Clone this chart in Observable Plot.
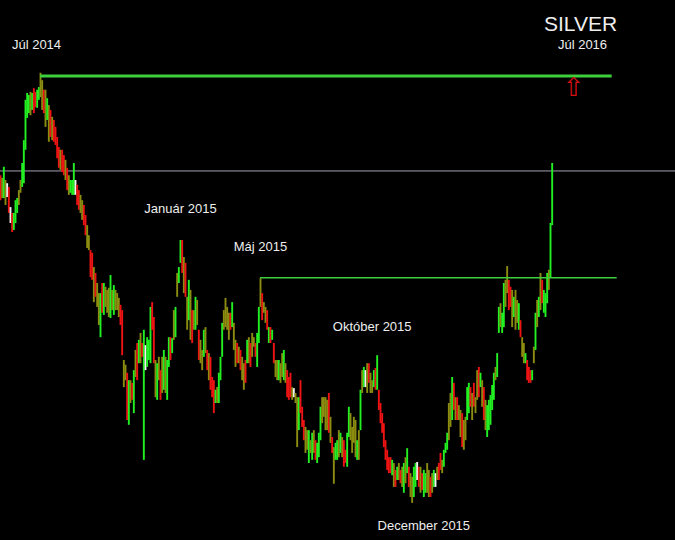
<!DOCTYPE html>
<html>
<head>
<meta charset="utf-8">
<script src="https://cdn.jsdelivr.net/npm/d3@7"></script>
<script src="https://cdn.jsdelivr.net/npm/@observablehq/plot@0.6"></script>
<style>
html,body{margin:0;padding:0;background:#000;overflow:hidden;}
#chart svg{display:block;}
</style>
</head>
<body>
<div id="chart"></div>
<script>
// Silver price bars (USD/oz), one per bar index
const high = [
19.70,19.65,19.86,19.61,19.55,19.48,19.10,18.99,18.99,19.23,
19.27,19.42,19.61,19.93,20.36,21.12,21.25,21.21,21.27,21.25,
21.34,21.27,21.31,21.36,21.63,21.49,21.31,21.31,21.15,21.02,
20.93,20.80,20.74,20.61,20.42,20.23,20.18,20.18,20.08,19.99,
19.84,19.70,19.61,19.61,19.93,19.61,19.52,19.42,19.33,19.23,
19.14,18.95,18.76,18.57,18.29,18.24,17.97,17.86,17.67,17.48,
17.48,17.67,17.67,17.60,17.54,17.58,17.82,17.54,17.63,17.54,
17.48,17.39,17.26,17.16,16.22,16.13,15.98,15.84,15.84,15.79,
16.03,16.41,16.54,16.60,16.73,16.54,16.79,16.50,16.65,16.60,
17.22,17.31,17.03,16.22,16.16,16.28,16.03,16.28,16.41,16.28,
16.22,16.65,16.65,16.63,17.16,17.22,17.86,17.97,18.48,18.48,
18.16,18.05,17.41,17.73,17.54,17.16,17.16,17.41,17.35,16.79,
16.60,16.41,16.79,16.84,16.41,16.35,16.28,15.90,15.84,15.66,
15.71,15.98,16.28,16.92,17.16,17.39,17.22,17.11,17.11,17.31,
16.92,16.60,16.54,16.47,16.41,16.28,16.16,16.22,16.60,16.65,
16.54,16.73,16.65,16.54,16.73,17.22,17.76,17.48,17.31,17.22,
17.16,16.84,16.84,16.79,16.54,16.22,16.22,16.22,16.16,16.35,
16.41,16.16,16.03,15.90,15.98,15.71,15.69,15.60,15.52,15.52,
15.84,15.34,15.09,14.96,14.90,14.90,14.71,14.85,14.90,14.71,
14.66,14.85,15.34,15.52,15.52,15.52,15.47,15.60,15.15,14.77,
14.58,14.66,14.71,14.90,14.85,14.77,14.71,14.53,14.85,15.34,
15.22,14.96,15.15,15.09,14.71,14.90,15.66,16.03,16.09,16.03,
16.16,16.16,15.98,15.84,16.03,16.07,16.31,15.66,15.41,15.22,
15.03,14.71,14.53,14.39,14.39,14.34,14.28,14.15,14.21,14.28,
14.15,14.21,14.28,14.39,14.56,14.21,14.09,14.02,14.21,14.28,
14.30,14.21,14.21,14.09,14.15,14.09,14.28,14.15,14.02,14.09,
14.15,14.09,14.21,14.28,14.47,14.34,14.53,14.66,14.85,15.41,
15.60,15.90,15.79,15.52,15.52,15.37,15.28,15.22,15.09,15.15,
15.71,15.79,15.71,15.60,15.79,15.52,16.03,16.09,15.98,15.84,
15.71,15.47,15.37,15.47,15.56,15.75,15.98,16.09,16.35,17.22,
17.29,17.11,17.67,17.73,17.99,17.73,17.60,17.54,17.41,17.54,
17.35,17.29,16.97,16.65,16.54,16.35,16.22,16.09,16.03,16.03,
16.47,17.11,17.35,17.41,17.86,17.73,17.54,17.48,17.86,17.92,
18.80,19.93
];
const low = [
19.23,19.27,19.27,19.14,19.29,18.99,18.80,18.63,18.67,18.80,
18.99,19.14,19.37,19.48,19.55,20.18,20.78,20.87,20.83,20.93,
20.87,20.98,20.97,21.12,21.17,20.93,20.87,20.61,20.74,20.33,
20.42,20.36,20.33,20.27,20.02,19.84,19.80,19.76,19.70,19.61,
19.42,19.33,19.37,19.33,19.33,19.33,19.14,19.05,18.99,18.86,
18.76,18.57,18.33,18.29,17.78,17.73,17.31,17.41,17.22,16.88,
16.65,17.11,17.07,17.22,17.11,17.03,17.01,17.16,17.07,17.16,
17.16,17.03,16.88,16.31,15.71,15.84,15.09,15.00,15.41,15.47,
15.22,15.90,15.84,16.16,16.16,16.28,14.34,16.03,16.09,16.22,
16.16,16.79,16.16,15.52,15.47,15.84,15.47,15.60,15.66,15.60,
15.47,16.09,16.22,16.35,16.60,16.65,17.41,17.67,18.05,17.86,
17.48,17.41,16.79,16.97,16.60,16.54,16.79,16.79,16.88,16.22,
16.16,16.03,16.28,16.35,16.03,15.84,15.66,15.52,15.22,15.41,
15.41,15.41,15.84,16.28,16.79,16.84,16.79,16.60,16.79,16.84,
16.41,16.09,16.16,16.16,16.03,15.84,15.66,15.79,16.16,16.16,
16.09,16.28,16.47,16.28,16.09,16.54,17.22,16.97,17.11,16.92,
16.79,16.54,16.54,16.60,16.16,15.90,15.84,15.84,15.79,15.90,
15.84,15.79,15.52,15.47,15.52,15.47,15.52,15.41,14.58,14.90,
15.22,14.96,14.71,14.47,14.53,14.28,14.47,14.34,14.47,14.34,
14.28,14.39,14.71,15.03,15.15,14.90,14.90,14.85,14.66,14.47,
13.89,14.34,14.34,14.39,14.47,14.39,14.21,14.28,14.21,14.77,
14.71,14.47,14.66,14.39,14.34,14.34,14.90,15.60,15.71,15.71,
15.60,15.79,15.60,15.60,15.71,15.66,15.66,15.28,15.03,14.85,
14.58,14.34,14.15,14.09,14.09,14.05,13.83,13.83,13.96,13.96,
13.90,13.83,13.72,13.90,14.09,13.83,13.64,13.53,13.64,13.83,
13.96,13.83,13.72,13.77,13.64,13.72,13.72,13.64,13.64,13.72,
13.83,13.83,13.96,13.96,14.15,14.09,14.21,14.47,14.53,14.71,
14.96,15.09,15.28,15.09,15.09,15.09,14.77,14.58,14.53,14.71,
15.09,15.22,15.34,15.09,15.34,15.22,15.47,15.52,15.71,15.34,
15.09,14.90,14.77,14.90,15.00,15.28,15.47,15.84,15.90,16.73,
16.84,16.73,16.84,17.22,17.48,17.16,17.22,16.84,17.03,16.79,
16.92,16.79,16.65,16.28,16.16,16.16,15.84,15.79,15.79,15.84,
16.16,16.41,16.84,17.03,17.16,17.29,17.11,17.03,17.29,17.54,
17.78,18.76
];
// bar direction per index: g = up, r = down, o = mixed, w = flat
const moves = [
"rogowrwrgg","googggggog","rrggoorogo","rorrrrorro","rogggwrroo",
"rroorroroo","grgooogogo","oorroorgor","gorgorgwgg","grrogorogo",
"ggrgogoggr","orogorogor","oogororrrg","ogggoooorg","oororoorgo",
"roorggoroo","rgrgroogoo","gorrrowoog","rrroogogor","gggooooror",
"oggogorrgg","oooogogogw","oroogrgrrr","rrrrrgorgo","rogogroogg",
"wrorggooro","gworrogggo","ogrorooroo","ggroroorgo","rogggggogg",
"oggoorrogo","ogroogrrrg","ogogorgggo","gg"
].join("").split("");

// horizontal levels (price, from bar index, to bar index)
const resistance = [
  {price: 21.58, from: 24, to: 367, width: 3},
  {price: 17.78, from: 156, to: 370, width: 1.5}
];
const currentPrice = 19.79;

// text annotations (bar index, price)
const labels = [
  {text: "Júl 2014", i: 21.6, p: 22.17, size: 13},
  {text: "SILVER", i: 348, p: 22.55, size: 21},
  {text: "Júl 2016", i: 349.2, p: 22.17, size: 13},
  {text: "Január 2015", i: 108, p: 19.08, size: 13},
  {text: "Máj 2015", i: 156, p: 18.37, size: 13},
  {text: "Október 2015", i: 223, p: 16.86, size: 13},
  {text: "December 2015", i: 254, p: 13.11, size: 13}
];
const arrowMark = [{i: 343.8, p: 21.36}];

const bars = high.map((h, i) => ({i, high: h, low: low[i], dir: moves[i]}));

const chart = Plot.plot({
  width: 675,
  height: 540,
  margin: 0,
  style: {background: "#000", fontFamily: "'Liberation Sans', Arial, sans-serif"},
  x: {domain: [0, 405], range: [0, 675], axis: null},
  y: {domain: [23 - 540 / 53.1, 23], range: [540, 0], axis: null},
  color: {domain: ["g", "r", "o", "w"], range: ["#22f022", "#ee1414", "#8c8c10", "#f2f2f2"]},
  marks: [
    Plot.ruleY([currentPrice], {stroke: "#a0a0b0", strokeWidth: 1}),
    Plot.ruleX(bars, {x: "i", y1: "low", y2: "high", stroke: "dir", strokeWidth: 1.9}),
    Plot.ruleY(resistance, {y: "price", x1: "from", x2: "to", stroke: "#3dd03d", strokeWidth: "width"}),
    Plot.text(labels, {x: "i", y: "p", text: "text", fontSize: "size", fill: "#eeeeee", textAnchor: "middle", lineAnchor: "middle"}),
    Plot.text(arrowMark, {x: "i", y: "p", text: () => "⇧", fontSize: 26, fill: "#d41010", fontFamily: "DejaVu Sans", textAnchor: "middle", lineAnchor: "middle"})
  ]
});
document.getElementById("chart").appendChild(chart);
</script>
</body>
</html>
